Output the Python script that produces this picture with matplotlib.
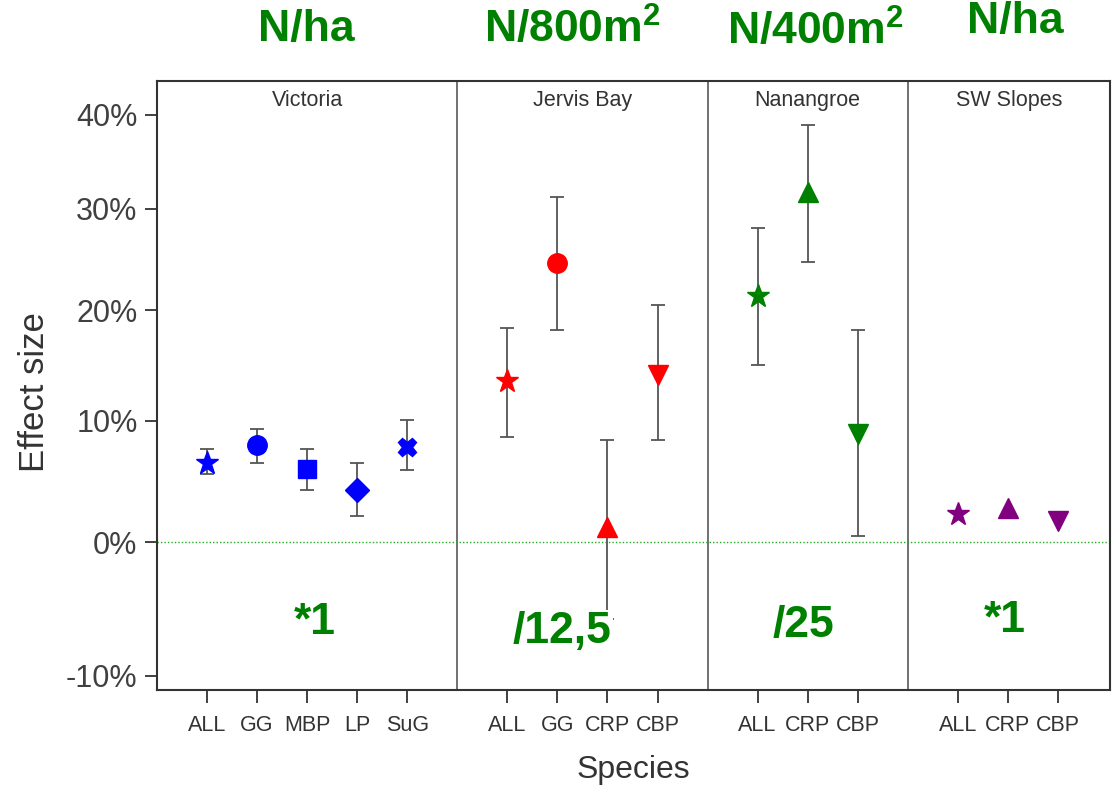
import numpy as np
import matplotlib
matplotlib.use("Agg")
import matplotlib.pyplot as plt

plt.rcParams['font.family'] = ['Liberation Sans', 'DejaVu Sans']
plt.rcParams['mathtext.fontset'] = 'custom'
plt.rcParams['mathtext.rm'] = 'Liberation Sans'
plt.rcParams['mathtext.bf'] = 'Liberation Sans:bold'

# effect sizes in percent, with lower / upper bounds of the error bars
regions = ["Victoria", "Jervis Bay", "Nanangroe", "SW Slopes"]
species = [
    ["ALL", "GG", "MBP", "LP", "SuG"],
    ["ALL", "GG", "CRP", "CBP"],
    ["ALL", "CRP", "CBP"],
    ["ALL", "CRP", "CBP"],
]
effect = [
    [6.4, 7.9, 5.9, 4.2, 7.8],
    [13.5, 24.6, 1.2, 14.1],
    [21.4, 31.7, 8.9],
    [2.2, 2.7, 1.7],
]
lower = [
    [5.5, 6.4, 4.2, 2.1, 5.8],
    [8.6, 18.2, -5.9, 8.4],
    [15.0, 24.7, 0.5],
    [None, None, None],
]
upper = [
    [7.6, 9.3, 7.6, 6.4, 10.1],
    [18.4, 31.2, 8.4, 20.5],
    [28.1, 38.9, 18.2],
    [None, None, None],
]
markers = [
    ["*", "o", "s", "D", "X"],
    ["*", "o", "^", "v"],
    ["*", "^", "v"],
    ["*", "^", "v"],
]
colors = ["#0000ff", "#ff0000", "#008000", "#800080"]
top_notes = ["N/ha", r"N/800m$^{\mathbf{2}}$", r"N/400m$^{\mathbf{2}}$", "N/ha"]
bottom_notes = ["*1", "/12,5", "/25", "*1"]
yticks = [-10, 0, 10, 20, 30, 40]


def tr(p):
    # the original axis is log(1 + effect)
    return np.log1p(np.asarray(p, dtype=float) / 100.0)


fig = plt.figure(figsize=(11.14, 7.92), dpi=100)
ax = fig.add_axes([0.1409, 0.1288, 0.8555, 0.7689])

sizes = {"*": 17, "o": 14, "s": 13, "D": 12, "X": 13, "^": 14, "v": 14}
xpos = []
labels = []
start = 0
for g in range(len(regions)):
    n = len(species[g])
    xs = np.arange(start, start + n)
    for i, x in enumerate(xs):
        if lower[g][i] is not None:
            y = tr(effect[g][i])
            ax.errorbar(x, y, yerr=[[y - tr(lower[g][i])], [tr(upper[g][i]) - y]],
                        fmt="none", ecolor="#555555", elinewidth=1.3,
                        capsize=5, capthick=1.3, zorder=2)
        ax.plot(x, tr(effect[g][i]), marker=markers[g][i], color=colors[g],
                markersize=sizes[markers[g][i]], linestyle="none", zorder=3)
    xpos += list(xs)
    labels += species[g]
    start += n + 1

# panel edges
edges = [-1, 5, 10, 14, 18.04]
for e in edges[1:-1]:
    ax.axvline(e, color="#666666", lw=1.3, zorder=1)

ax.axhline(0, color="#22aa22", lw=1.0, linestyle=(0, (1, 1.5)), zorder=1)

ax.set_xlim(edges[0], edges[-1])
ax.set_ylim(-0.1165, 0.363)
ax.set_yticks(tr(yticks))
ax.set_yticklabels(["%d%%" % t for t in yticks], fontsize=22, color="#404040")
ax.set_xticks(xpos)
ax.set_xticklabels(labels, fontsize=15.5, color="#333333")
ax.tick_params(axis="both", direction="out", length=9, width=1.3, color="#333333")
ax.tick_params(axis="y", pad=5)
ax.tick_params(axis="x", pad=9)
for sp in ax.spines.values():
    sp.set_linewidth(1.5)
    sp.set_color("#333333")

fig.text(35 / 1114, 1 - 392 / 792, "Effect size", rotation=90, ha="center",
         va="center", fontsize=25, color="#333333")
fig.text(633 / 1114, 1 - 770 / 792, "Species", ha="center", va="center",
         fontsize=23, color="#333333")

for g in range(len(regions)):
    cx = (edges[g] + edges[g + 1]) / 2
    ax.text(cx, 0.348, regions[g], ha="center", va="center", fontsize=15.5,
            color="#333333")

top_x = [306, 572, 815, 1015]
top_y = [30, 30, 32, 22]
for g in range(4):
    fig.text(top_x[g] / 1114, 1 - top_y[g] / 792, top_notes[g], ha="center",
             va="center", fontsize=32, fontweight="bold", color="#008000")

bot_x = [315, 562, 803, 1005]
bot_y = [622, 632, 625, 620]
for g in range(4):
    fig.text(bot_x[g] / 1114, 1 - bot_y[g] / 792, bottom_notes[g], ha="center",
             va="center", fontsize=32, fontweight="bold", color="#008000",
             bbox=dict(facecolor="white", edgecolor="none", pad=1) if g == 1 else None)

fig.savefig("out.png", dpi=100)
